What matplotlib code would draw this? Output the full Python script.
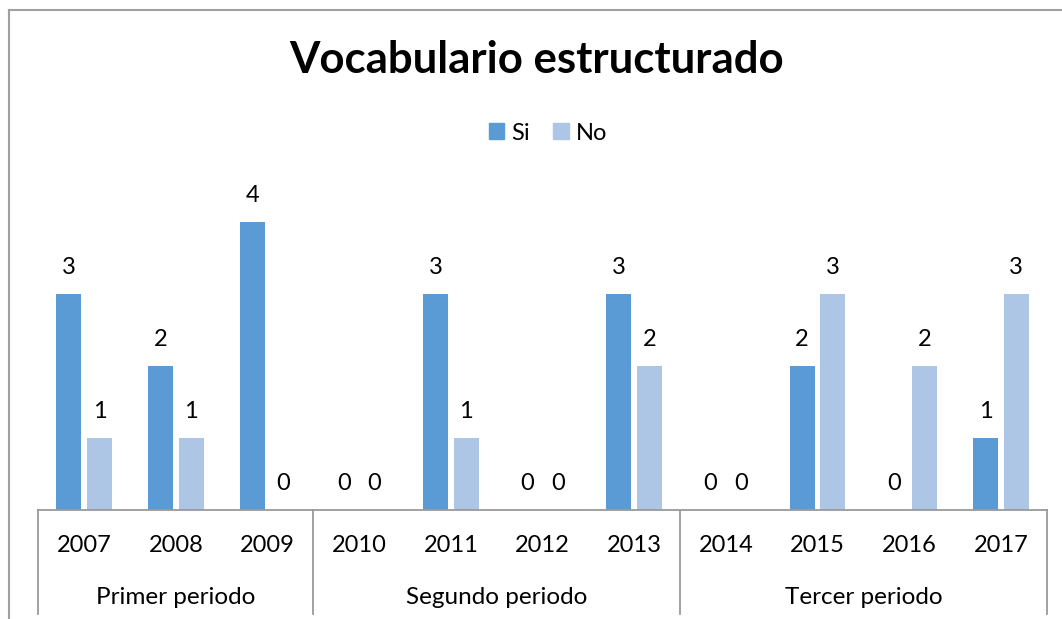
import matplotlib
matplotlib.use("Agg")
import matplotlib.pyplot as plt
from matplotlib.lines import Line2D
from matplotlib.patches import Patch
import matplotlib.transforms as mtransforms

plt.rcParams['font.family'] = ['Lato', 'DejaVu Sans']

title = "Vocabulario estructurado"
years = ["2007", "2008", "2009", "2010", "2011", "2012", "2013", "2014", "2015", "2016", "2017"]
periods = ["Primer periodo", "Segundo periodo", "Tercer periodo"]
period_sizes = [3, 4, 4]
series_names = ["Si", "No"]
si_values = [3, 2, 4, 0, 3, 0, 3, 0, 2, 0, 1]
no_values = [1, 1, 0, 0, 1, 0, 2, 0, 3, 2, 3]

colors = ["#5B9BD5", "#ADC6E6"]
W, H = 1062, 619
fig = plt.figure(figsize=(W / 100, H / 100), dpi=100)

ax_left, ax_right = 38.3, 1046.7
ax_bottom, ax_top = 510.3, 150.3
ax = fig.add_axes([ax_left / W, 1 - ax_bottom / H, (ax_right - ax_left) / W, (ax_bottom - ax_top) / H])

x = list(range(len(years)))
bw = 0.273
off = 0.168
for vals, sgn, col, name in [(si_values, -1, colors[0], series_names[0]), (no_values, 1, colors[1], series_names[1])]:
    xs = [i + sgn * off for i in x]
    ax.bar(xs, vals, width=bw, color=col, label=name, zorder=2)
    for xi, v in zip(xs, vals):
        ax.text(xi, v + 27 / 72, str(v), ha='center', va='center', fontsize=17, color='black')

ax.set_xlim(-0.5, len(years) - 0.5)
ax.set_ylim(0, 5)
for s in ['top', 'left', 'right']:
    ax.spines[s].set_visible(False)
ax.spines['bottom'].set_color('#9A9A9A')
ax.spines['bottom'].set_linewidth(1.3)
ax.set_xticks([])
ax.set_yticks([])

trans = mtransforms.blended_transform_factory(ax.transData, ax.transAxes)
axh = ax_bottom - ax_top
for i, yl in enumerate(years):
    ax.text(i, -(546 - ax_bottom) / axh, yl, transform=trans, ha='center', va='center', fontsize=17)

# group separators and labels
start = -0.5
bounds = [start]
for n in period_sizes:
    bounds.append(bounds[-1] + n)
for b in bounds:
    ax.add_line(Line2D([b, b], [0, -(614 - ax_bottom) / axh], transform=trans, color='#9A9A9A',
                       linewidth=1.3, clip_on=False))
for p, a, b in zip(periods, bounds[:-1], bounds[1:]):
    ax.text((a + b) / 2, -(597 - ax_bottom) / axh, p, transform=trans, ha='center', va='center', fontsize=17.5)

fig.text(537 / W, 1 - 60 / H, title, ha='center', va='center', fontsize=31.5, fontweight='bold')

handles = [Patch(color=colors[0], label=series_names[0]), Patch(color=colors[1], label=series_names[1])]
fig.legend(handles=handles, loc='center', bbox_to_anchor=(548 / W, 1 - 133 / H), ncol=2, frameon=False,
           fontsize=17, handlelength=0.65, handleheight=0.65, handletextpad=0.3, columnspacing=1.0)

# chart border (top and left visible)
fig.add_artist(Line2D([9 / W, 9 / W], [0, 1 - 10 / H], transform=fig.transFigure, color='#A0A0A0', linewidth=1.5))
fig.add_artist(Line2D([9 / W, 1], [1 - 10 / H, 1 - 10 / H], transform=fig.transFigure, color='#A0A0A0', linewidth=1.5))

fig.savefig("out.png", dpi=100)
